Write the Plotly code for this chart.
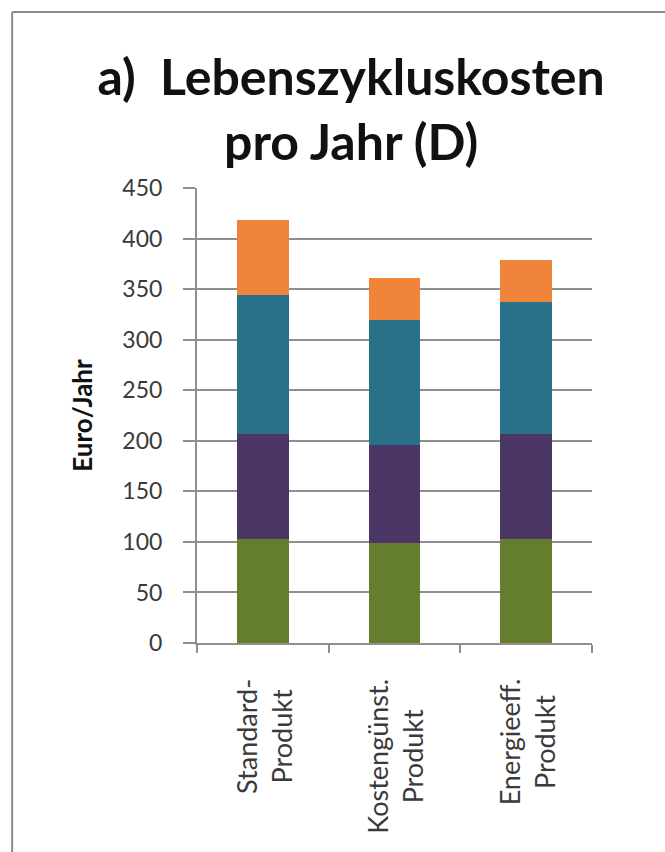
import plotly.graph_objects as go

# Product variants and the four stacked cost components (Euro per year)
categories = ["Standard-Produkt", "Kostengünst. Produkt", "Energieeff. Produkt"]
category_labels = ["Standard-<br>Produkt", "Kostengünst.<br>Produkt", "Energieeff.<br>Produkt"]
component_1 = [103, 99, 103]
component_2 = [104, 97, 104]
component_3 = [137, 123, 130]
component_4 = [74, 42, 42]
y_ticks = [0, 50, 100, 150, 200, 250, 300, 350, 400, 450]

series = [
    (component_1, "#647E2E"),
    (component_2, "#4C3666"),
    (component_3, "#287189"),
    (component_4, "#F0843A"),
]

FONT = "Lato"
TEXT = "#3a3a3a"
GRID = "#8f8f8f"

fig = go.Figure()
for values, color in series:
    fig.add_trace(go.Bar(
        x=categories,
        y=values,
        marker=dict(color=color, line=dict(width=0)),
        showlegend=False,
        hoverinfo="y",
    ))

fig.update_layout(
    barmode="stack",
    bargap=0.61,
    width=665,
    height=852,
    margin=dict(l=197, r=73, t=188, b=209),
    paper_bgcolor="white",
    plot_bgcolor="white",
    font=dict(family=FONT, color=TEXT),
    title=dict(
        text="a)\u00a0 Lebenszykluskosten<br>pro Jahr (D)",
        font=dict(family=FONT, size=50, color="#111111", weight="bold"),
        x=0.528,
        xanchor="center",
        yref="container",
        y=0.888,
        yanchor="middle",
    ),
)

fig.update_yaxes(
    range=[0, 450],
    tickvals=y_ticks,
    showgrid=True,
    gridcolor=GRID,
    gridwidth=2,
    showline=True,
    linecolor=GRID,
    linewidth=2,
    ticks="outside",
    ticklen=12,
    tickwidth=2,
    tickcolor=GRID,
    tickfont=dict(family=FONT, size=23, color=TEXT),
    ticklabelstandoff=16,
    zeroline=False,
    title=dict(
        text="Euro/Jahr",
        font=dict(family=FONT, size=26, color="#111111", weight="bold"),
        standoff=22,
    ),
)

fig.update_xaxes(
    showline=True,
    linecolor=GRID,
    linewidth=2,
    ticks="outside",
    tickson="boundaries",
    ticklen=8,
    tickwidth=2,
    tickcolor=GRID,
    showticklabels=False,
    showgrid=False,
)

# Category labels, rotated and centred line by line below each stack
for cat, label in zip(categories, category_labels):
    fig.add_annotation(
        x=cat,
        xref="x",
        xshift=1,
        y=-0.074,
        yref="paper",
        text=label,
        textangle=-90,
        showarrow=False,
        xanchor="center",
        yanchor="top",
        align="center",
        font=dict(family=FONT, size=27, color=TEXT),
    )

# Chart frame: left and top edges, running off the right and bottom of the page
frame = dict(color="#8a8a8a", width=2)
fig.add_shape(type="line", xref="paper", yref="paper",
              x0=-0.468, x1=-0.468, y0=-0.47, y1=1.387, line=frame, layer="below")
fig.add_shape(type="line", xref="paper", yref="paper",
              x0=-0.468, x1=1.19, y0=1.387, y1=1.387, line=frame, layer="below")

fig.write_html("out.html")
